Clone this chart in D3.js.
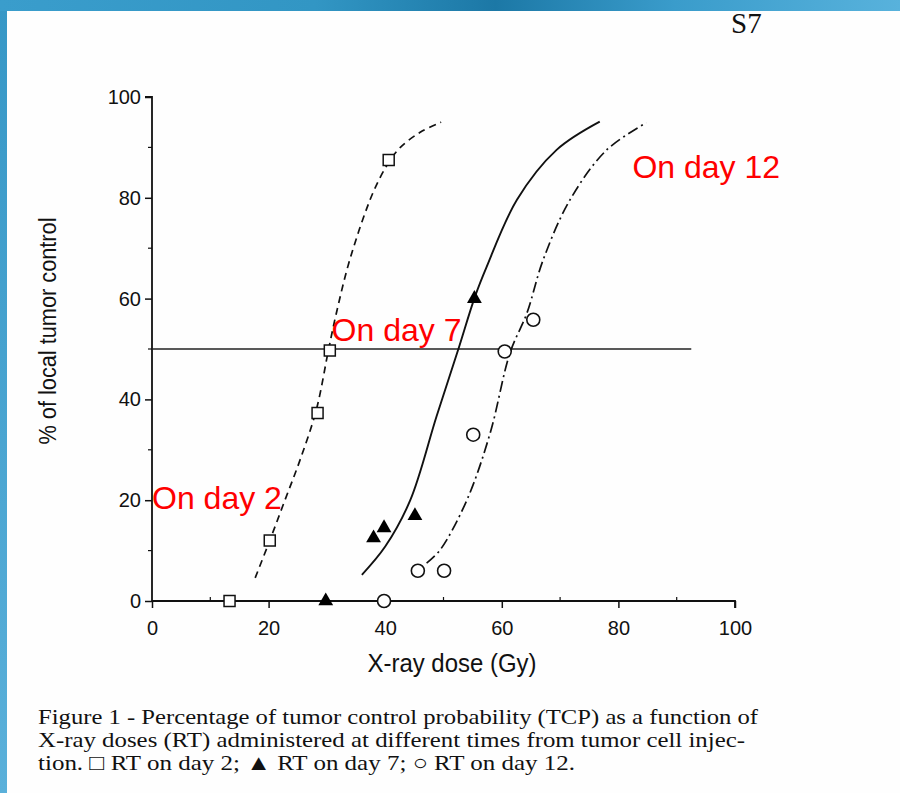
<!DOCTYPE html>
<html><head><meta charset="utf-8">
<script src="https://cdn.jsdelivr.net/npm/d3@7"></script>
<style>body{margin:0;padding:0;overflow:hidden;background:#fff}</style>
</head><body>
<svg id="chart" width="900" height="793"></svg>
<script>
// ---- data ----
const xTicks = [0, 20, 40, 60, 80, 100];
const yTicks = [0, 20, 40, 60, 80, 100];
const day2Points = [[13.3, 0], [20.2, 12], [28.4, 37.3], [30.5, 49.7], [40.6, 87.5]];
const day7Points = [[29.8, 0], [38, 12.5], [39.8, 14.5], [45.1, 16.9], [55.3, 60]];
const day12Points = [[39.8, 0], [45.6, 6], [50.1, 6], [55.1, 33], [60.5, 49.5], [65.4, 55.8]];
const day2Curve = [[17.7, 4.6], [20.2, 12], [22.8, 20], [25.4, 28], [28.2, 38], [30.3, 50], [31.6, 57], [34, 68], [37.9, 81], [40.6, 87], [42.6, 90], [46, 93], [49.6, 95]];
const day7Curve = [[36, 5.2], [40, 10.8], [44.3, 20], [48.8, 36.6], [52.5, 49.8], [55.4, 60.4], [57.4, 66.3], [62.6, 79.6], [69.4, 89.5], [76.8, 95.1]];
const day12Curve = [[47.1, 7.5], [49.4, 10.1], [54, 20], [58, 33.3], [61.4, 49.2], [64.3, 57.1], [67.1, 67.7], [71.7, 79.6], [78, 89.5], [84.8, 94.9]];
const refLine = [[0, 50], [92.5, 50]];
const labels = [
  {text: "On day 2", x: 0, y: 18.3},
  {text: "On day 7", x: 30.8, y: 51.6},
  {text: "On day 12", x: 82.4, y: 83.9}
];
const caption = [
  "Figure 1 - Percentage of tumor control probability (TCP) as a function of",
  "X-ray doses (RT) administered at different times from tumor cell injec-",
  "tion. \u25A1 RT on day 2; \u25B2 RT on day 7; \u25CB RT on day 12."
];
const captionWidths = [720, 707, 537];

const svg = d3.select("#chart");

// slide background
const defs = svg.append("defs");
const g1 = defs.append("linearGradient").attr("id", "topg").attr("x1", 0).attr("x2", 1).attr("y1", 0).attr("y2", 0);
g1.append("stop").attr("offset", "0%").attr("stop-color", "#3a9dcc");
g1.append("stop").attr("offset", "35%").attr("stop-color", "#3296c4");
g1.append("stop").attr("offset", "55%").attr("stop-color", "#1c78a6");
g1.append("stop").attr("offset", "75%").attr("stop-color", "#3a9ccb");
g1.append("stop").attr("offset", "100%").attr("stop-color", "#58b2dc");
const g2 = defs.append("linearGradient").attr("id", "leftg").attr("x1", 0).attr("x2", 0).attr("y1", 0).attr("y2", 1);
g2.append("stop").attr("offset", "0%").attr("stop-color", "#3697c6");
g2.append("stop").attr("offset", "100%").attr("stop-color", "#5ab0da");
svg.append("rect").attr("x", 0).attr("y", 0).attr("width", 900).attr("height", 793).attr("fill", "url(#leftg)");
svg.append("rect").attr("x", 7).attr("y", 11).attr("width", 893).attr("height", 782).attr("fill", "#fefefe");

const x = d3.scaleLinear().domain([0, 100]).range([152, 735]);
const y = d3.scaleLinear().domain([0, 100]).range([601, 97]);

const sans = "Arial, 'Liberation Sans', Helvetica, sans-serif";
const serif = "'Times New Roman', 'Liberation Serif', serif";

// page number (top cropped by the band)
svg.append("text").attr("x", 731).attr("y", 33).attr("font-family", serif).attr("font-size", 29)
  .attr("fill", "#111").text("S7");
svg.append("rect").attr("x", 0).attr("y", 0).attr("width", 900).attr("height", 11).attr("fill", "url(#topg)");

// axes
const yAxis = d3.axisLeft(y).tickValues(yTicks).tickSize(7).tickPadding(4);
const gy = svg.append("g").attr("transform", `translate(${x(0)},0)`).call(yAxis);
gy.select(".domain").attr("stroke-width", 1.8).attr("d", `M-7,${y(100)}H0V${y(0)}`);
gy.selectAll(".tick line").attr("stroke-width", 1.5);
gy.selectAll("text").attr("font-family", sans).attr("font-size", 20).attr("fill", "#111");
svg.append("g").selectAll("line").data(d3.range(10, 100, 20)).join("line")
  .attr("x1", x(0) - 4).attr("x2", x(0)).attr("y1", d => y(d)).attr("y2", d => y(d))
  .attr("stroke", "#111").attr("stroke-width", 1.2);

const xAxis = d3.axisBottom(x).tickValues(xTicks).tickSize(7).tickPadding(13);
const gx = svg.append("g").attr("transform", `translate(0,${y(0)})`).call(xAxis);
gx.select(".domain").attr("stroke-width", 1.8).attr("d", `M${x(0)},0H${x(100)}V7`);
gx.selectAll(".tick line").attr("stroke-width", 1.5);
gx.selectAll("text").attr("font-family", sans).attr("font-size", 20).attr("fill", "#111");
svg.append("g").selectAll("line").data(d3.range(10, 100, 20)).join("line")
  .attr("x1", d => x(d)).attr("x2", d => x(d)).attr("y1", y(0)).attr("y2", y(0) - 4)
  .attr("stroke", "#111").attr("stroke-width", 1.2);
svg.selectAll(".domain, .tick line").attr("stroke", "#111");

// axis titles
svg.append("text").attr("x", 452).attr("y", 672).attr("text-anchor", "middle")
  .attr("font-family", sans).attr("font-size", 25).attr("fill", "#111")
  .attr("textLength", 169).attr("lengthAdjust", "spacingAndGlyphs").text("X-ray dose (Gy)");
svg.append("text").attr("transform", `translate(56,331) rotate(-90)`).attr("text-anchor", "middle")
  .attr("font-family", sans).attr("font-size", 23).attr("fill", "#111")
  .attr("textLength", 227).attr("lengthAdjust", "spacingAndGlyphs").text("% of local tumor control");

// reference 50% line
const line = d3.line().x(d => x(d[0])).y(d => y(d[1]));
svg.append("path").attr("d", line(refLine)).attr("fill", "none").attr("stroke", "#222").attr("stroke-width", 1.4);

// curves
const curve = d3.line().x(d => x(d[0])).y(d => y(d[1])).curve(d3.curveCatmullRom.alpha(0.5));
svg.append("path").attr("d", curve(day2Curve)).attr("fill", "none").attr("stroke", "#111")
  .attr("stroke-width", 1.7).attr("stroke-dasharray", "7,5");
svg.append("path").attr("d", curve(day7Curve)).attr("fill", "none").attr("stroke", "#111")
  .attr("stroke-width", 1.9);
svg.append("path").attr("d", curve(day12Curve)).attr("fill", "none").attr("stroke", "#111")
  .attr("stroke-width", 1.7).attr("stroke-dasharray", "11,4,2,4");

// markers
svg.append("g").selectAll("rect").data(day2Points).join("rect")
  .attr("x", d => x(d[0]) - 5.5).attr("y", d => y(d[1]) - 5.5).attr("width", 11).attr("height", 11)
  .attr("fill", "#fff").attr("stroke", "#111").attr("stroke-width", 1.5);
const tri = d3.symbol().type(d3.symbolTriangle).size(95);
svg.append("g").selectAll("path").data(day7Points).join("path")
  .attr("transform", d => `translate(${x(d[0])},${y(d[1])})`).attr("d", tri()).attr("fill", "#000");
svg.append("g").selectAll("circle").data(day12Points).join("circle")
  .attr("cx", d => x(d[0])).attr("cy", d => y(d[1])).attr("r", 6.5)
  .attr("fill", "#fff").attr("stroke", "#111").attr("stroke-width", 1.6);

// red labels
svg.append("g").selectAll("text").data(labels).join("text")
  .attr("x", d => x(d.x)).attr("y", d => y(d.y))
  .attr("font-family", sans).attr("font-size", 32).attr("fill", "#ff0000").text(d => d.text);

// caption
svg.append("g").selectAll("text").data(caption).join("text")
  .attr("x", 38).attr("y", (d, i) => 724 + i * 23)
  .attr("font-family", serif).attr("font-size", 22).attr("fill", "#111")
  .attr("textLength", (d, i) => captionWidths[i]).attr("lengthAdjust", "spacingAndGlyphs")
  .text(d => d);
</script>
</body></html>
